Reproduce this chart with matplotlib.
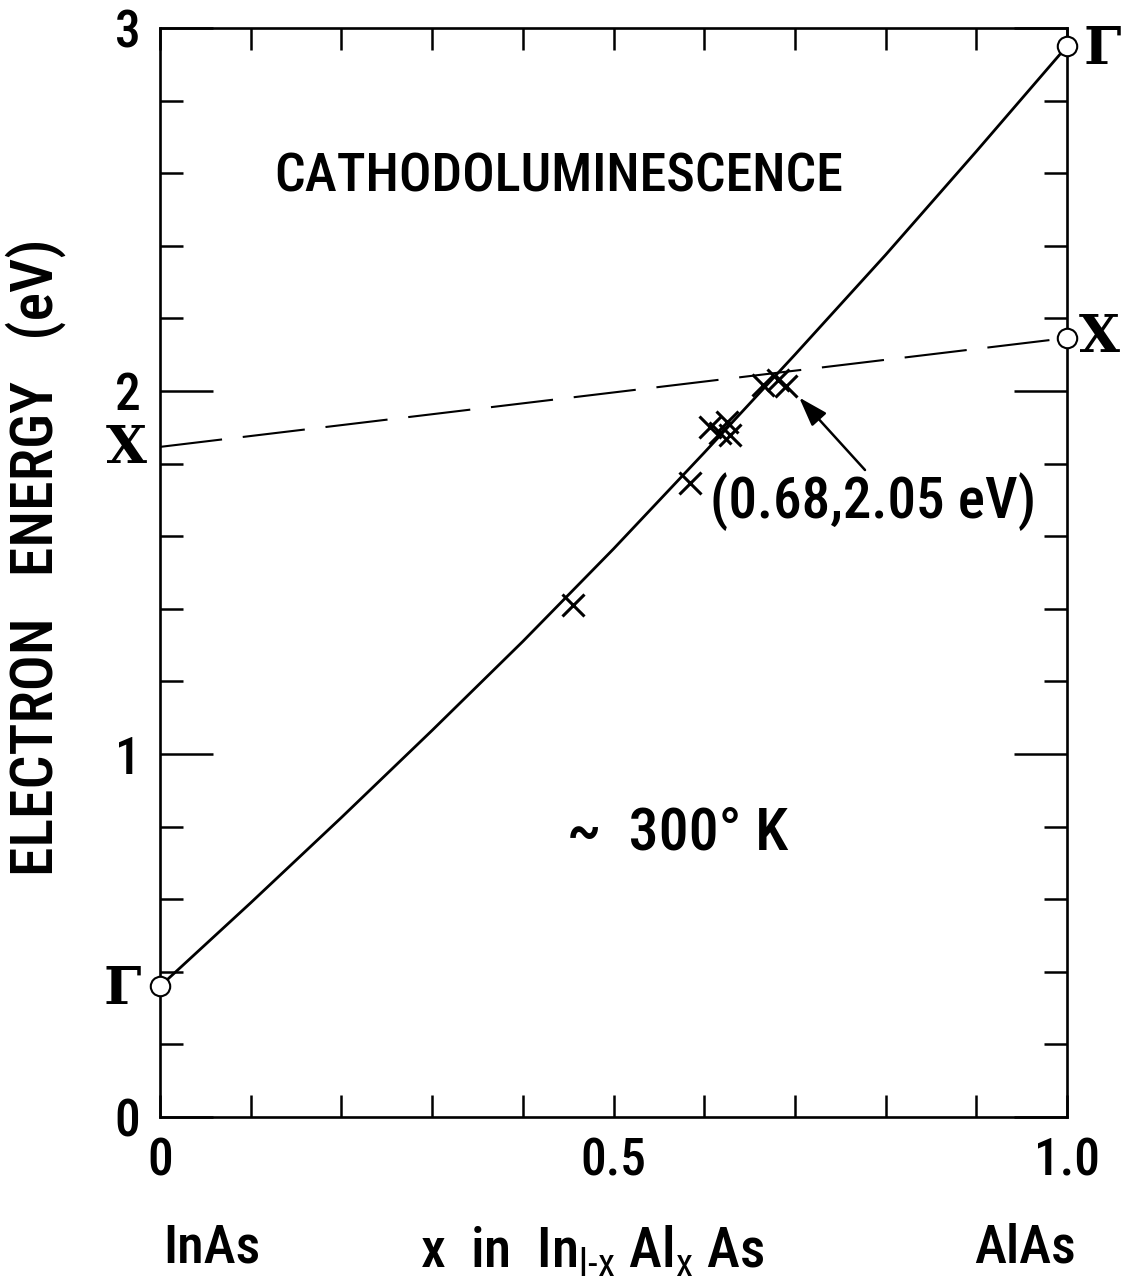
import numpy as np
import matplotlib
matplotlib.use('Agg')
import matplotlib.pyplot as plt
from matplotlib import font_manager as fm
from matplotlib.ticker import MultipleLocator, FixedLocator, FixedFormatter

# Gamma (direct) gap curve
gamma_x = [0.0, 0.1, 0.2, 0.3, 0.4, 0.5, 0.6, 0.7, 0.8, 0.9, 1.0]
gamma_e = [0.36, 0.59, 0.825, 1.065, 1.31, 1.565, 1.83, 2.10, 2.375, 2.66, 2.95]

# X (indirect) gap, dashed straight line
xval_x = [0.0, 1.0]
xval_e = [1.846, 2.146]

# binary end points (open circles)
end_x = [0.0, 1.0, 1.0]
end_e = [0.36, 2.95, 2.146]

# cathodoluminescence data (crosses)
cl_x = [0.455, 0.584, 0.606, 0.625, 0.617, 0.628, 0.665, 0.681, 0.690]
cl_e = [1.41, 1.747, 1.901, 1.915, 1.884, 1.879, 2.017, 2.030, 2.014]

cross_pt = (0.68, 2.05)

# lettering font: a condensed sans if there is one
names = {f.name for f in fm.fontManager.ttflist}
sans = 'DejaVu Sans'
k = 0.77
for cand in ['Roboto Condensed', 'Liberation Sans Narrow', 'Sofia Sans Condensed']:
    if cand in names:
        sans = cand
        k = 1.0
        break
serif = 'DejaVu Serif'
plt.rcParams['mathtext.fontset'] = 'custom'
plt.rcParams['mathtext.rm'] = sans

fig = plt.figure(figsize=(11.22, 12.87), dpi=100)
W, H = 1122.0, 1287.0
ax = fig.add_axes([160/W, 1-1117/H, 907/W, 1089/H])

ax.plot(gamma_x, gamma_e, color='k', lw=2.0, zorder=3)
ax.plot(xval_x, xval_e, color='k', lw=1.5, dashes=(30, 10), zorder=2)
ax.plot(cl_x, cl_e, ls='none', marker='x', ms=16, mew=2.2, color='k', zorder=4)
ax.plot(end_x, end_e, ls='none', marker='o', ms=14, mfc='white', mec='k',
        mew=1.5, clip_on=False, zorder=5)

ax.set_xlim(0, 1.0)
ax.set_ylim(0, 3)

for s in ax.spines.values():
    s.set_linewidth(1.9)

ax.xaxis.set_major_locator(FixedLocator([0, 0.5, 1.0]))
ax.xaxis.set_major_formatter(FixedFormatter(['0', '0.5', '1.0']))
ax.xaxis.set_minor_locator(MultipleLocator(0.1))
ax.yaxis.set_major_locator(MultipleLocator(1))
ax.yaxis.set_minor_locator(MultipleLocator(0.2))

ax.tick_params(axis='both', which='both', direction='in', top=True, right=True,
               width=1.8, labelsize=37*k, pad=14)
ax.tick_params(axis='x', which='both', length=16)
ax.tick_params(axis='y', which='major', length=38)
ax.tick_params(axis='y', which='minor', length=16.5)
for lab in ax.get_xticklabels() + ax.get_yticklabels():
    lab.set_family(sans)
    lab.set_weight('medium')

# Gamma / X labels at the ends
for (px, py, s) in [(122, 990, 'Γ'), (126, 448, 'X'), (1102, 50, 'Γ'), (1099, 338, 'X')]:
    fig.text(px/W, 1-py/H, s, fontsize=38, family=serif, weight='bold',
             ha='center', va='center')

fig.text(559/W, 1-177/H, 'CATHODOLUMINESCENCE', fontsize=39*k, family=sans,
         ha='center', va='center', weight='medium')
fig.text(678/W, 1-833/H, '~  300° K', fontsize=43*k, family=sans,
         ha='center', va='center', weight='medium')
fig.text(873/W, 1-502/H, '(0.68,2.05 eV)', fontsize=41*k, family=sans,
         ha='center', va='center', weight='medium')

ax.annotate('', xy=cross_pt, xytext=(865, H-470), textcoords='figure pixels',
            arrowprops=dict(arrowstyle='-|>,head_length=0.6,head_width=0.2',
                            lw=1.8, color='k', shrinkA=0, shrinkB=24,
                            mutation_scale=30))

fig.text(36/W, 1-557/H, 'ELECTRON   ENERGY   (eV)', fontsize=43*k, family=sans,
         rotation=90, ha='center', va='center', weight='medium')

fig.text(212/W, 1-1248/H, 'InAs', fontsize=39*k, family=sans,
         ha='center', va='center', weight='medium')
fig.text(1025/W, 1-1248/H, 'AlAs', fontsize=39*k, family=sans,
         ha='center', va='center', weight='medium')
fig.text(592/W, 1-1250/H, r'x  in  In$_{\text{l-x}}$ Al$_{\text{x}}$ As',
         fontsize=40*k, family=sans, ha='center', va='center', weight='medium')

fig.savefig('out.png', dpi=100)
